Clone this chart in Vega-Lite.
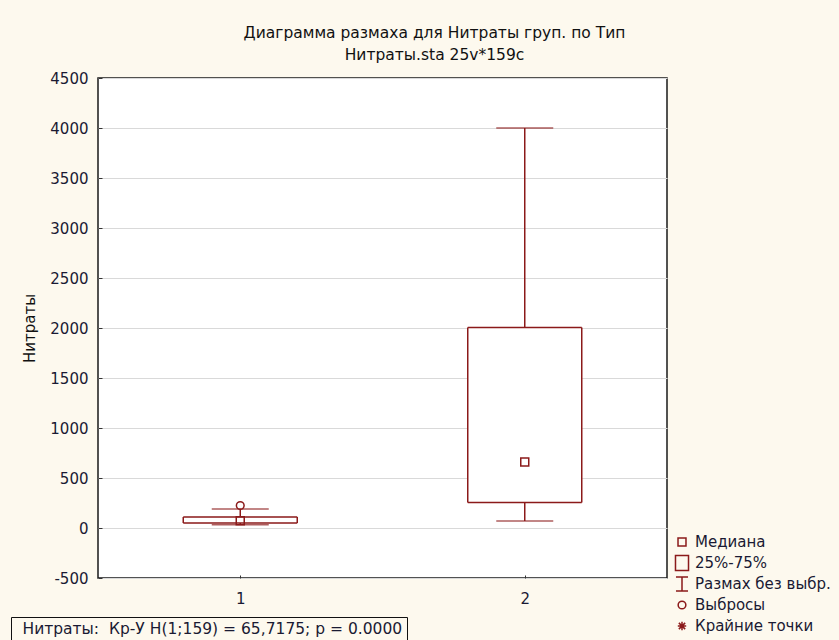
{
  "$schema": "https://vega.github.io/schema/vega-lite/v6.json",
  "width": 569,
  "height": 500,
  "autosize": "none",
  "padding": {"left": 98, "top": 78, "right": 172, "bottom": 62},
  "background": "#fdf9ee",
  "config": {
    "font": "DejaVu Sans",
    "view": {"fill": "white", "stroke": "#1a1a1a", "strokeWidth": 1.5}
  },
  "title": {
    "text": ["Диаграмма размаха для Нитраты груп. по Тип", "Нитраты.sta 25v*159c"],
    "fontSize": 15.5,
    "fontWeight": "normal",
    "color": "#111111",
    "anchor": "middle",
    "dx": 52,
    "offset": 8,
    "lineHeight": 22
  },
  "datasets": {
    "boxes": [
      {"type": "1", "q1": 50, "q3": 110, "lo": 33, "hi": 190},
      {"type": "2", "q1": 255, "q3": 2005, "lo": 70, "hi": 4000}
    ],
    "points": [
      {"type": "1", "value": 72, "kind": "Медиана"},
      {"type": "2", "value": 660, "kind": "Медиана"},
      {"type": "1", "value": 225, "kind": "Выбросы"}
    ]
  },
  "encoding": {
    "x": {
      "field": "type",
      "type": "nominal",
      "scale": {"type": "point", "padding": 0.5},
      "axis": {
        "title": null,
        "labelAngle": 0,
        "labelFontSize": 15,
        "labelColor": "#1a1a33",
        "tickSize": -3,
        "tickColor": "#333333",
        "labelPadding": 16,
        "domain": false,
        "grid": false
      }
    }
  },
  "layer": [
    {
      "data": {"name": "boxes"},
      "mark": {"type": "rule", "color": "#8b1a1a", "strokeWidth": 1.5},
      "encoding": {
        "y": {
          "field": "lo",
          "type": "quantitative",
          "scale": {"domain": [-500, 4500], "nice": false, "zero": false},
          "axis": {
            "values": [-500, 0, 500, 1000, 1500, 2000, 2500, 3000, 3500, 4000, 4500],
            "labelExpr": "toString(datum.value)",
            "title": "Нитраты",
            "titleFontSize": 15,
            "titleFontWeight": "normal",
            "titleColor": "#111111",
            "titleX": -61,
            "titleY": 250,
            "labelFontSize": 15,
            "labelColor": "#1a1a33",
            "labelFlush": false,
            "labelOverlap": false,
            "tickSize": -4,
            "tickColor": "#333333",
            "labelPadding": 14,
            "grid": true,
            "gridColor": "#d9d9d9",
            "domain": false
          }
        },
        "y2": {"field": "hi"}
      }
    },
    {
      "data": {"name": "boxes"},
      "mark": {"type": "tick", "orient": "horizontal", "size": 57, "thickness": 1.5, "color": "#8b1a1a"},
      "encoding": {"y": {"field": "lo", "type": "quantitative"}}
    },
    {
      "data": {"name": "boxes"},
      "mark": {"type": "tick", "orient": "horizontal", "size": 57, "thickness": 1.5, "color": "#8b1a1a"},
      "encoding": {"y": {"field": "hi", "type": "quantitative"}}
    },
    {
      "data": {"name": "boxes"},
      "mark": {"type": "bar", "size": 114, "fill": "white", "stroke": "#8b1a1a", "strokeWidth": 1.5},
      "encoding": {
        "y": {"field": "q1", "type": "quantitative"},
        "y2": {"field": "q3"},
        "strokeDash": {
          "datum": "Нитраты:\u00a0 Кр-У H(1;159) = 65,7175; p = 0.0000",
          "type": "nominal",
          "scale": {"range": [[1, 0]]},
          "legend": {
            "title": null,
            "orient": "none",
            "legendX": -87,
            "legendY": 539,
            "symbolSize": 0,
            "symbolStrokeWidth": 0,
            "symbolOpacity": 0,
            "labelOffset": -8,
            "labelFontSize": 15.5,
            "labelColor": "#1a1a33",
            "labelLimit": 600,
            "strokeColor": "#111111",
            "padding": 4
          }
        }
      }
    },
    {
      "data": {"name": "points"},
      "mark": {"type": "point", "filled": false, "size": 196, "strokeWidth": 1.5, "color": "#8b1a1a", "opacity": 1},
      "encoding": {
        "y": {"field": "value", "type": "quantitative"},
        "shape": {
          "field": "kind",
          "type": "nominal",
          "scale": {
            "domain": ["Медиана", "25%-75%", "Размах без выбр.", "Выбросы", "Крайние точки"],
            "range": [
              "M-0.57,-0.57H0.57V0.57H-0.57Z",
              "M-0.93,-1.07H0.93V1.07H-0.93Z",
              "M-0.86,-1H0.86M0,-1V1M-0.86,1H0.86",
              "M0.55,0A0.55,0.55 0 1,1 -0.55,0A0.55,0.55 0 1,1 0.55,0",
              "M0,-0.6V0.6M-0.6,0H0.6M-0.45,-0.45L0.45,0.45M-0.45,0.45L0.45,-0.45"
            ]
          },
          "legend": {
            "title": null,
            "orient": "none",
            "legendX": 576,
            "legendY": 456,
            "symbolSize": 196,
            "symbolStrokeColor": "#8b1a1a",
            "symbolFillColor": "transparent",
            "symbolStrokeWidth": 1.5,
            "labelFontSize": 15,
            "labelColor": "#1a1a33",
            "labelOffset": 5,
            "rowPadding": -1,
            "gridAlign": "all",
            "padding": 0,
            "labelLimit": 300
          }
        }
      }
    }
  ]
}
